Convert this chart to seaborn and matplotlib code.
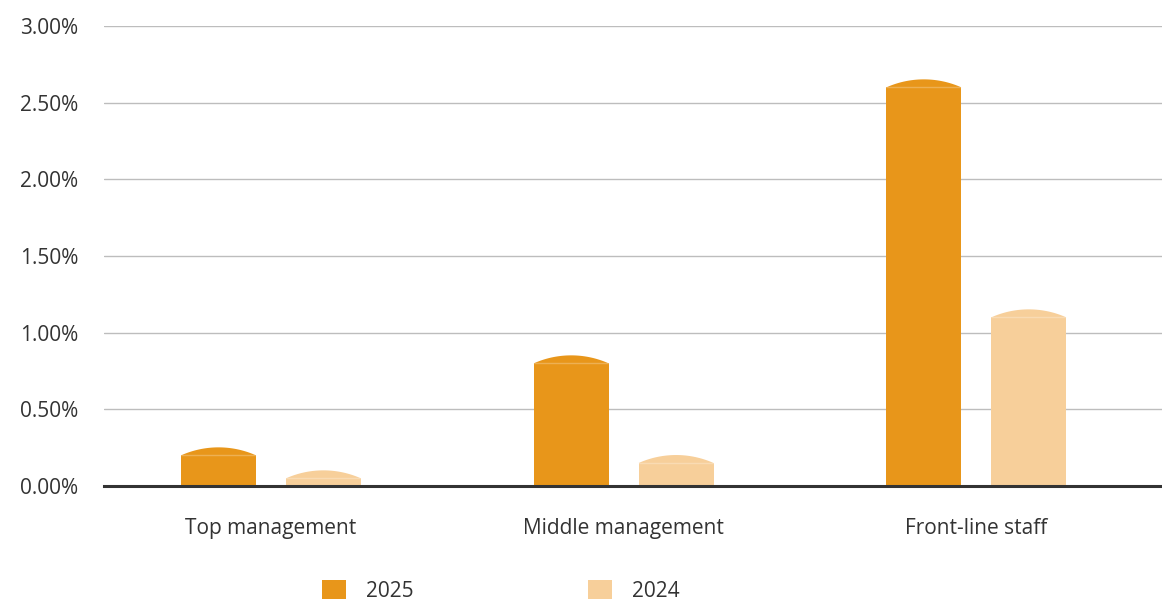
import numpy as np
import pandas as pd
import matplotlib
matplotlib.use("Agg")
import matplotlib.pyplot as plt
from matplotlib.patches import Patch, Polygon
from matplotlib.ticker import FuncFormatter
import seaborn as sns

categories = ["Top management", "Middle management", "Front-line staff"]
years = ["2025", "2024"]
values_2025 = [0.20, 0.80, 2.60]
values_2024 = [0.05, 0.15, 1.10]
colors = {"2025": "#E8961A", "2024": "#F7CF9A"}

df = pd.DataFrame({
    "Category": categories * 2,
    "Year": ["2025"] * 3 + ["2024"] * 3,
    "Value": values_2025 + values_2024,
})

sns.set_style("white")
plt.rcParams["font.family"] = ["Open Sans", "DejaVu Sans"]
text_col = "#333333"
fs = 15

fig = plt.figure(figsize=(11.62, 6.02), dpi=100)
ax = fig.add_axes([0.0895, 0.1927, 0.9105, 0.7641])

sns.barplot(data=df, x="Category", y="Value", hue="Year", hue_order=years,
            palette=colors, width=0.595, gap=0.286, saturation=1,
            linewidth=0, legend=False, ax=ax, zorder=3)

# dome-shaped caps on top of each bar
cap_h = 0.052
u = np.linspace(-1, 1, 60)
r, s = 2.45, 0.213
dome = (np.sqrt(r**2 - u**2) - (r - s)) / s
for p in ax.patches:
    x0, w, top = p.get_x(), p.get_width(), p.get_height()
    xs = x0 + (u + 1) / 2 * w
    ys = top + cap_h * dome
    pts = np.column_stack([np.r_[xs, xs[::-1]], np.r_[ys, np.full_like(xs, top)]])
    ax.add_patch(Polygon(pts, closed=True, facecolor=p.get_facecolor(),
                         edgecolor="none", zorder=3))
    ax.plot([x0, x0 + w], [top, top], color="white", alpha=0.25, lw=1, zorder=4)

ax.set_ylim(0, 3.0)
ax.set_xlim(-0.4735, 2.5265)
ax.set_yticks(np.arange(0, 3.01, 0.5))
ax.yaxis.set_major_formatter(FuncFormatter(lambda v, _: f"{v:.2f}%"))
ax.grid(axis="y", color="#BDBDBD", lw=1, zorder=0)
ax.grid(axis="x", visible=False)
for side in ["top", "right", "left"]:
    ax.spines[side].set_visible(False)
ax.spines["bottom"].set_color("#333333")
ax.spines["bottom"].set_linewidth(2.2)
ax.spines["bottom"].set_zorder(5)
ax.tick_params(axis="y", length=0, pad=18.5, labelsize=fs, labelcolor=text_col)
ax.tick_params(axis="x", length=0, pad=23, labelsize=fs, labelcolor=text_col)
ax.set_xlabel("")
ax.set_ylabel("")

handles = [Patch(facecolor=colors[y], edgecolor="none", label=y) for y in years]
fig.legend(handles=handles, loc="center", bbox_to_anchor=(0.431, 0.018), ncol=2,
           frameon=False, fontsize=fs, labelcolor=text_col,
           handlelength=1.15, handleheight=1.0, handletextpad=0.95,
           columnspacing=8.4)

fig.savefig("out.png", dpi=100)
